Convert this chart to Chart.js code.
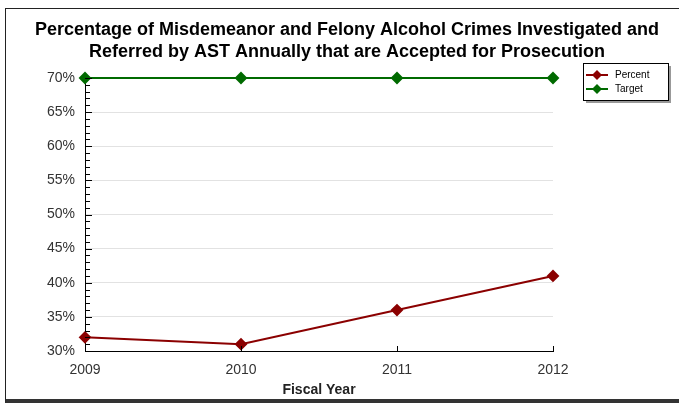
<!DOCTYPE html>
<html>
<head>
<meta charset="utf-8">
<script src="https://cdn.jsdelivr.net/npm/chart.js@4"></script>
<style>
  html, body { margin: 0; padding: 0; background: #fff; }
  #wrap { position: relative; width: 679px; height: 403px; overflow: hidden; }
  #frame { position: absolute; left: 5px; top: 8px; width: 700px; height: 390px;
           border-left: 1px solid #222; border-top: 1px solid #222; border-bottom: 5px solid #333; }
  canvas { position: absolute; left: 0; top: 0; }
</style>
</head>
<body>
<div id="wrap">
  <div id="frame"></div>
  <canvas id="grafico" width="679" height="403"></canvas>
</div>
<script>
const years = ['2009', '2010', '2011', '2012'];
const percent = [32, 31, 36, 41];
const target = [70, 70, 70, 70];
const titulo = ['Percentage of Misdemeanor and Felony Alcohol Crimes Investigated and',
                'Referred by AST Annually that are Accepted for Prosecution'];

const rojo = '#8b0000';
const verde = '#006a00';
const fuente = '"Liberation Sans", Arial, sans-serif';

// titulo, ticks pequeños del eje y, leyenda con borde
const extras = {
  id: 'extras',
  afterDraw(chart) {
    const ctx = chart.ctx;
    const y = chart.scales.y;
    const x = chart.scales.x;
    const left = chart.chartArea.left;
    ctx.save();
    ctx.fillStyle = '#000';
    ctx.font = 'bold 18px ' + fuente;
    ctx.textAlign = 'center';
    ctx.textBaseline = 'middle';
    ctx.fillText(titulo[0], 347, 30);
    ctx.fillText(titulo[1], 347, 52);
    ctx.textAlign = 'left';

    ctx.strokeStyle = '#000';
    ctx.lineWidth = 1;
    for (let v = 30; v <= 70; v++) {
      const py = Math.round(y.getPixelForValue(v)) + 0.5;
      const len = v % 5 === 0 ? 7 : 5;
      ctx.beginPath();
      ctx.moveTo(left, py);
      ctx.lineTo(left + len, py);
      ctx.stroke();
    }
    // ticks del eje x hacia arriba
    const bottom = chart.chartArea.bottom;
    for (let i = 1; i < years.length; i++) {
      const px = Math.round(x.getPixelForValue(i)) + 0.5;
      ctx.beginPath();
      ctx.moveTo(px, bottom);
      ctx.lineTo(px, bottom - 5);
      ctx.stroke();
    }
    // leyenda
    const bx = 583, by = 63, bw = 85, bh = 37;
    ctx.fillStyle = '#999';
    ctx.fillRect(bx + 3, by + 3, bw, bh);
    ctx.fillStyle = '#fff';
    ctx.fillRect(bx, by, bw, bh);
    ctx.strokeStyle = '#000';
    ctx.strokeRect(bx + 0.5, by + 0.5, bw, bh);
    chart.data.datasets.forEach((ds, i) => {
      const ly = by + 12 + i * 14;
      ctx.strokeStyle = ds.borderColor;
      ctx.lineWidth = 2;
      ctx.beginPath();
      ctx.moveTo(bx + 3, ly);
      ctx.lineTo(bx + 25, ly);
      ctx.stroke();
      ctx.fillStyle = ds.borderColor;
      ctx.beginPath();
      ctx.moveTo(bx + 14, ly - 5);
      ctx.lineTo(bx + 19, ly);
      ctx.lineTo(bx + 14, ly + 5);
      ctx.lineTo(bx + 9, ly);
      ctx.closePath();
      ctx.fill();
      ctx.fillStyle = '#000';
      ctx.font = '10px ' + fuente;
      ctx.textBaseline = 'middle';
      ctx.fillText(ds.label, bx + 32, ly);
    });
    ctx.restore();
  }
};

const data = {
  labels: years,
  datasets: [{
    label: 'Percent',
    data: percent,
    borderColor: rojo,
    backgroundColor: rojo,
    borderWidth: 2,
    pointStyle: 'rectRot',
    pointRadius: 5,
    tension: 0
  }, {
    label: 'Target',
    data: target,
    borderColor: verde,
    backgroundColor: verde,
    borderWidth: 2,
    pointStyle: 'rectRot',
    pointRadius: 5,
    tension: 0
  }]
};

const config = {
  type: 'line',
  data: data,
  plugins: [extras],
  options: {
    responsive: false,
    animation: false,
    clip: false,
    layout: { padding: { left: 0, right: 126, top: 78, bottom: 0 } },
    plugins: {
      legend: { display: false },
      tooltip: { enabled: false },
      title: { display: false }
    },
    scales: {
      x: {
        offset: false,
        border: { color: '#000', width: 1 },
        grid: { display: false },
        ticks: {
          color: '#333',
          font: { family: fuente, size: 14 },
          padding: 3,
          maxRotation: 0
        },
        title: {
          display: true,
          text: 'Fiscal Year',
          color: '#222',
          font: { family: fuente, size: 14, weight: 'bold' },
          padding: { top: 0, bottom: 4 }
        },
        afterFit(scale) { scale.height = 52; }
      },
      y: {
        min: 30,
        max: 70,
        border: { color: '#000', width: 1 },
        grid: {
          drawTicks: false,
          color: ctx => (ctx.tick.value === 30 || ctx.tick.value === 70) ? 'rgba(0,0,0,0)' : '#e2e2e2'
        },
        ticks: {
          stepSize: 5,
          color: '#333',
          padding: 10,
          font: { family: fuente, size: 14 },
          callback: function(value) {
            return value + '%';
          }
        },
        afterFit(scale) { scale.width = 85; }
      }
    }
  }
};

const myChart = new Chart(document.getElementById('grafico'), config);
</script>
</body>
</html>
